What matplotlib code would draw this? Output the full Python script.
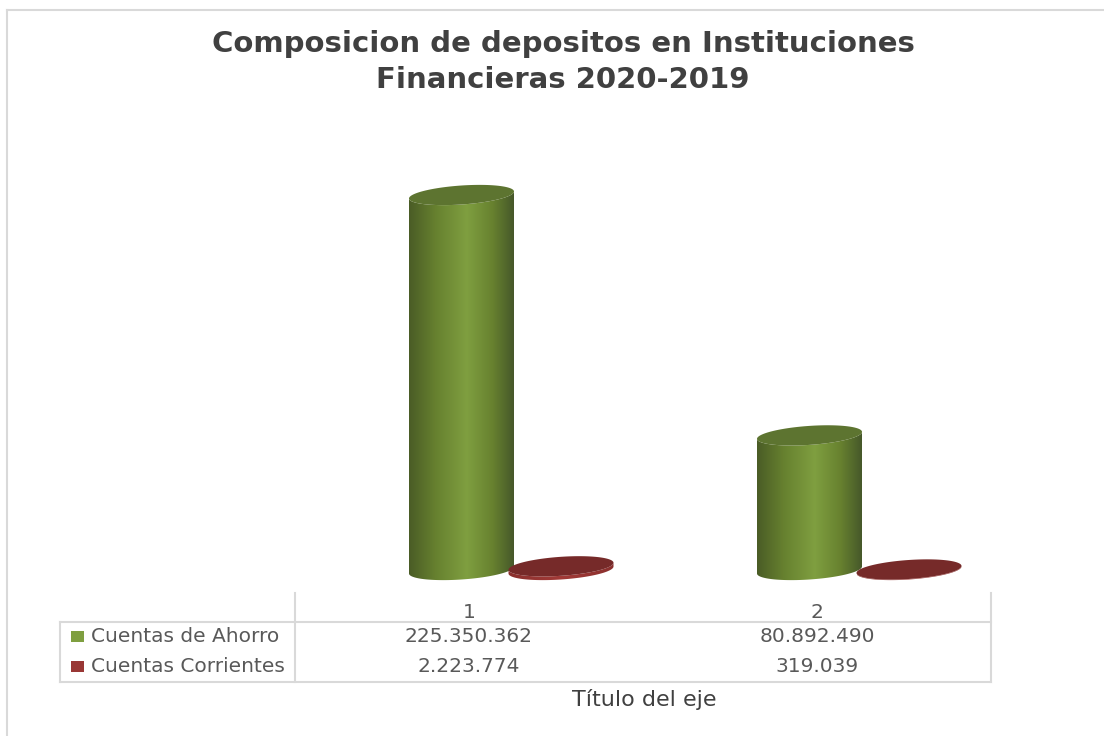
import numpy as np
import matplotlib
matplotlib.use("Agg")
import matplotlib.pyplot as plt
from matplotlib.colors import LinearSegmentedColormap

categories = ["1", "2"]
series_names = ["Cuentas de Ahorro", "Cuentas Corrientes"]
ahorro = [225350362, 80892490]
corrientes = [2223774, 319039]
value_labels = [["225.350.362", "80.892.490"], ["2.223.774", "319.039"]]
title = "Composicion de depositos en Instituciones\nFinancieras 2020-2019"
axis_title = "Título del eje"

W, H = 1104, 736
LINE = "#d9d9d9"
TEXT = "#595959"
PX_PER_VALUE = 375 / 225350362
BASE_Y = 570  # pixel row of the value zero

green_cm = LinearSegmentedColormap.from_list(
    "g", [(0, "#4a5c26"), (0.25, "#66802f"), (0.55, "#7f9f40"), (0.8, "#67812f"), (1, "#46582a")])
red_cm = LinearSegmentedColormap.from_list("r", ["#8a302e", "#a23a37", "#8a302e"])


def cylinder(ax, cx, half, value, cmap, top_color):
    # half is in category units, ellipse sizes are given in pixels
    vpp = 1 / PX_PER_VALUE
    t = np.linspace(0, 2 * np.pi, 400)
    b, tilt = 9.5 * vpp, 3.5 * vpp
    ex = cx + half * np.cos(t)
    ey = b * np.sin(t) + tilt * np.cos(t)
    # body outline: lower arc of the base and lower arc of the top ellipse
    low = np.sin(t) <= 0
    order = np.argsort(ex[low])
    bx, by = ex[low][order], ey[low][order]
    px = np.r_[bx, bx[::-1]]
    py = np.r_[by, by[::-1] + value]
    body, = ax.fill(px, py, color="none", clip_on=False, lw=0)
    grad = ax.imshow(np.linspace(0, 1, 256)[None, :], cmap=cmap, aspect="auto",
                     extent=[cx - half, cx + half, -2 * b, value + 2 * b], zorder=2)
    grad.set_clip_box(fig.bbox)
    grad.set_clip_path(body)
    ax.fill(ex, ey + value, color=top_color, zorder=3, clip_on=False, lw=0)


fig = plt.figure(figsize=(W / 100, H / 100), dpi=100)
bg = fig.add_axes([0, 0, 1, 1])
bg.set_xlim(0, W)
bg.set_ylim(H, 0)
bg.axis("off")

# outer frame of the chart area
bg.plot([7, 7], [10, H], color=LINE, lw=1.5)
bg.plot([7, W], [10, 10], color=LINE, lw=1.5)

bg.text(563, 44, title.split("\n")[0], ha="center", va="center", fontsize=21,
        fontweight="bold", color="#404040")
bg.text(563, 80, title.split("\n")[1], ha="center", va="center", fontsize=21,
        fontweight="bold", color="#404040")

# data table
for xs, ys in [([295, 295], [593, 682]), ([991, 991], [593, 682]), ([60, 60], [622, 682]),
               ([60, 991], [622, 622]), ([60, 991], [682, 682])]:
    bg.plot(xs, ys, color=LINE, lw=1.5, solid_capstyle="projecting")

col_x = [469, 817]
row_y = [637, 667]
for x, c in zip(col_x, categories):
    bg.text(x, 612, c, ha="center", va="center", fontsize=14.5, color=TEXT)
for r, (y, name) in enumerate(zip(row_y, series_names)):
    bg.text(91, y, name, ha="left", va="center", fontsize=14.5, color=TEXT)
    for x, lab in zip(col_x, value_labels[r]):
        bg.text(x, y, lab, ha="center", va="center", fontsize=14.5, color=TEXT)
bg.fill([71, 84, 84, 71], [631, 631, 642, 642], color="#7f9f40", lw=0)
bg.fill([71, 84, 84, 71], [661, 661, 672, 672], color="#993735", lw=0)
bg.text(644, 699, axis_title, ha="center", va="center", fontsize=16, color="#404040")

# plot area, one category is 348 pixels wide
top_y = 150
ax = fig.add_axes([295 / W, 1 - BASE_Y / H, 696 / W, (BASE_Y - top_y) / H])
ax.axis("off")

half = 52.5 / 348
for i in range(len(categories)):
    cylinder(ax, i + 1 - 7.5 / 348, half, ahorro[i], green_cm, "#5d7430")
    cylinder(ax, i + 1 + 92 / 348, half, corrientes[i], red_cm, "#762a29")
ax.set_xlim(0.5, 2.5)
ax.set_ylim(0, (BASE_Y - top_y) / PX_PER_VALUE)

fig.savefig("out.png", dpi=100)
